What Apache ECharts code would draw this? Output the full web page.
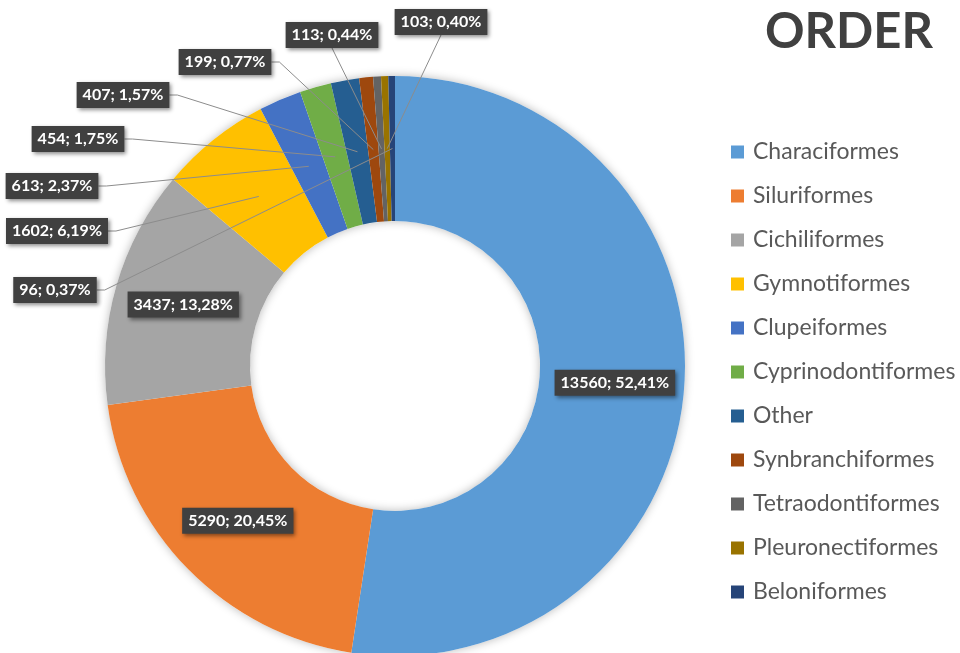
<!DOCTYPE html>
<html>
<head>
<meta charset="utf-8">
<title>ORDER</title>
<script src="https://cdn.jsdelivr.net/npm/echarts@6/dist/echarts.min.js"></script>
<style>
  html, body { margin: 0; padding: 0; background: #fff; }
  #main { width: 960px; height: 653px; }
</style>
</head>
<body>
<div id="main"></div>
<script>
// specimen counts per fish order
const orders = ['Characiformes', 'Siluriformes', 'Cichiliformes', 'Gymnotiformes', 'Clupeiformes',
    'Cyprinodontiformes', 'Other', 'Synbranchiformes', 'Tetraodontiformes', 'Pleuronectiformes', 'Beloniformes'];
const counts = [13560, 5290, 3437, 1602, 613, 454, 407, 199, 113, 103, 96];
const colors = ['#5B9BD5', '#ED7D31', '#A5A5A5', '#FFC000', '#4472C4', '#70AD47',
    '#255E91', '#9E480E', '#636363', '#997300', '#264478'];

// big slices keep the label in the ring, the small ones get a callout
const insideLabels = ['Characiformes', 'Siluriformes', 'Cichiliformes'];
// callout box centres (layout only)
const calloutSpots = {
    Gymnotiformes: [57, 231],
    Clupeiformes: [52, 186],
    Cyprinodontiformes: [78, 139],
    Other: [123, 95],
    Synbranchiformes: [225, 62],
    Tetraodontiformes: [332, 35],
    Pleuronectiformes: [441, 22],
    Beloniformes: [55, 290]
};
const fromBottom = ['Tetraodontiformes', 'Pleuronectiformes'];

const center = [395, 366];
const ring = [145, 290];

const chartDom = document.getElementById('main');
const myChart = echarts.init(chartDom);

const isInside = (name) => insideLabels.indexOf(name) >= 0;

// coloured ring, only the big labels
const ringData = orders.map((name, i) => ({
    name: name,
    value: counts[i],
    itemStyle: { color: colors[i] },
    label: { show: isInside(name) }
}));

// same slices again, see-through, carrying the callouts so the leader lines sit on top of the ring
const calloutData = orders.map((name, i) => ({
    name: name,
    value: counts[i],
    label: { show: !isInside(name) },
    labelLine: { show: !isInside(name) }
}));

const fmtLabel = (p) => p.value + '; ' + p.percent.toFixed(2).replace('.', ',') + '%';

const labelBox = {
    formatter: fmtLabel,
    color: '#fff',
    fontFamily: 'Lato',
    fontWeight: 'bold',
    fontSize: 16,
    lineHeight: 18,
    backgroundColor: '#404040',
    padding: [4, 6],
    shadowColor: 'rgba(0,0,0,0.45)',
    shadowBlur: 4,
    shadowOffsetX: 2,
    shadowOffsetY: 2
};

const option = {
    animation: false,
    title: {
        text: 'ORDER',
        right: 22,
        top: 3,
        textStyle: { fontFamily: 'Lato', fontWeight: 'bold', fontSize: 49, color: '#404040' }
    },
    legend: {
        data: orders,
        orient: 'vertical',
        left: 726,
        top: 135,
        icon: 'rect',
        itemWidth: 13,
        itemHeight: 13,
        itemGap: 20,
        selectedMode: false,
        textStyle: { fontFamily: 'Lato', fontSize: 23, color: '#595959', lineHeight: 24, padding: [0, 0, 0, 4] }
    },
    series: [
        {
            // soft shadow under the ring
            type: 'pie',
            silent: true,
            z: 1,
            center: center,
            radius: ring,
            label: { show: false },
            labelLine: { show: false },
            itemStyle: { color: '#fff', shadowBlur: 10, shadowColor: 'rgba(0,0,0,0.28)' },
            data: [{ name: '', value: 1 }]
        },
        {
            name: 'Order',
            type: 'pie',
            z: 2,
            center: center,
            radius: ring,
            startAngle: 90,
            percentPrecision: 2,
            silent: true,
            data: ringData,
            label: Object.assign({ position: 'inside' }, labelBox),
            labelLine: { show: false }
        },
        {
            name: 'Callouts',
            type: 'pie',
            z: 3,
            center: center,
            radius: ring,
            startAngle: 90,
            percentPrecision: 2,
            silent: true,
            avoidLabelOverlap: false,
            itemStyle: { color: 'rgba(0,0,0,0)' },
            data: calloutData,
            label: Object.assign({ position: 'outside' }, labelBox),
            labelLine: {
                length: 10,
                length2: 10,
                lineStyle: { color: '#8c8c8c', width: 1 }
            },
            labelLayout: function (params) {
                const name = orders[params.dataIndex];
                const spot = calloutSpots[name];
                if (!spot || !params.labelLinePoints) return {};
                const w = params.labelRect.width;
                const h = params.labelRect.height;
                // point the line at the middle of the ring on the slice's mid angle
                const p0 = params.labelLinePoints[0];
                const dx = p0[0] - center[0];
                const dy = p0[1] - center[1];
                const len = Math.sqrt(dx * dx + dy * dy) || 1;
                const midR = (ring[0] + ring[1]) / 2;
                const mid = [center[0] + dx / len * midR, center[1] + dy / len * midR];
                let pts;
                if (fromBottom.indexOf(name) >= 0) {
                    const edge = [spot[0], spot[1] + h / 2];
                    pts = [mid, edge, edge];
                } else {
                    const edge = [spot[0] + w / 2, spot[1]];
                    pts = [mid, [edge[0] + 8, edge[1]], edge];
                }
                return {
                    x: spot[0],
                    y: spot[1],
                    align: 'center',
                    verticalAlign: 'middle',
                    labelLinePoints: pts
                };
            }
        }
    ]
};

myChart.setOption(option);

window.addEventListener('resize', () => {
    myChart.resize();
});
</script>
</body>
</html>
